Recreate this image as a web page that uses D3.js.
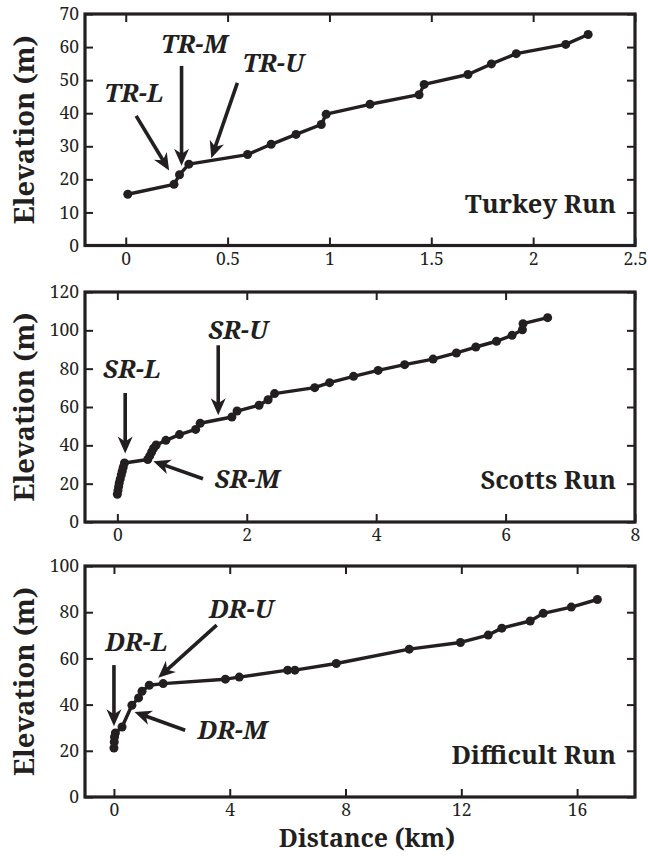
<!DOCTYPE html>
<html>
<head>
<meta charset="utf-8">
<script src="https://cdn.jsdelivr.net/npm/d3@7"></script>
<style>
  html, body { margin: 0; padding: 0; background: #fff; }
  svg { display: block; }
  svg text { font-family: "Noto Serif", "Liberation Serif", "Times New Roman", serif; }
</style>
</head>
<body>
<svg id="chart" width="648" height="856"></svg>
<script>
// ---------------- DATA ----------------
const turkeyDist = [0.01, 0.237, 0.264, 0.31, 0.598, 0.714, 0.836, 0.96, 0.984, 1.199, 1.44, 1.465, 1.68, 1.795, 1.917, 2.16, 2.27];
const turkeyElev = [15.5, 18.5, 21.4, 24.6, 27.5, 30.6, 33.6, 36.6, 39.7, 42.7, 45.6, 48.7, 51.7, 54.9, 58.0, 60.8, 63.8];

const scottsDist = [0.0, 0.01, 0.02, 0.03, 0.045, 0.06, 0.075, 0.09, 0.11, 0.47, 0.5, 0.53, 0.56, 0.6, 0.75, 0.96, 1.21, 1.28, 1.77, 1.85, 2.19, 2.33, 2.43, 3.05, 3.28, 3.65, 4.03, 4.44, 4.88, 5.24, 5.54, 5.86, 6.1, 6.26, 6.27, 6.65];
const scottsElev = [14.5, 16.5, 18.5, 20.5, 22.5, 24.5, 26.5, 28.5, 30.8, 32.6, 34.5, 36.5, 38.5, 40.2, 42.6, 45.6, 48.3, 51.5, 54.8, 57.9, 60.9, 63.8, 67.0, 70.1, 72.7, 76.0, 79.1, 82.1, 85.0, 88.2, 91.3, 94.3, 97.4, 100.3, 103.5, 106.6];

const difficultDist = [0, 0.01, 0.02, 0.05, 0.28, 0.62, 0.85, 0.97, 1.22, 1.7, 3.85, 4.33, 6.0, 6.25, 7.68, 10.2, 11.97, 12.93, 13.4, 14.38, 14.83, 15.8, 16.7];
const difficultElev = [21.2, 23.8, 26.0, 27.7, 30.3, 39.7, 42.9, 45.8, 48.4, 49.1, 51.0, 51.9, 54.9, 54.9, 57.8, 64.0, 66.9, 70.1, 73.1, 76.2, 79.5, 82.2, 85.5];

const turkeyXTicks = [0, 0.5, 1, 1.5, 2, 2.5];
const turkeyYTicks = [0, 10, 20, 30, 40, 50, 60, 70];
const scottsXTicks = [0, 2, 4, 6, 8];
const scottsYTicks = [0, 20, 40, 60, 80, 100, 120];
const difficultXTicks = [0, 4, 8, 12, 16];
const difficultYTicks = [0, 20, 40, 60, 80, 100];

const panelNames = ["Turkey Run", "Scotts Run", "Difficult Run"];

// annotations: label centre, arrow tail -> tip (data units)
const turkeyNotes = [
  {label: "TR-L", lx: 0.04, ly: 46.0, x1: 0.051, y1: 39.2, x2: 0.213, y2: 22.7},
  {label: "TR-M", lx: 0.337, ly: 60.9, x1: 0.274, y1: 54.3, x2: 0.274, y2: 24.1},
  {label: "TR-U", lx: 0.724, ly: 55.3, x1: 0.548, y1: 49.2, x2: 0.42, y2: 26.4}
];
const scottsNotes = [
  {label: "SR-L", lx: 0.224, ly: 79.7, x1: 0.121, y1: 67.3, x2: 0.121, y2: 35.7},
  {label: "SR-U", lx: 1.866, ly: 100.3, x1: 1.559, y1: 92.2, x2: 1.559, y2: 55.7},
  {label: "SR-M", lx: 2.006, ly: 22.6, x1: 1.323, y1: 22.6, x2: 0.556, y2: 31.7}
];
const difficultNotes = [
  {label: "DR-L", lx: 0.77, ly: 66.9, x1: 0.0, y1: 57.1, x2: 0.0, y2: 30.6},
  {label: "DR-U", lx: 4.40, ly: 81.4, x1: 3.55, y1: 74.4, x2: 1.53, y2: 51.6},
  {label: "DR-M", lx: 4.09, ly: 28.9, x1: 2.46, y1: 28.9, x2: 0.71, y2: 36.8}
];

// ---------------- LAYOUT ----------------
const INK = "#231f20";
const frameLeft = 85, frameRight = 635;
const BIG = 25.5, AXIS = 25, SMALL = 17.5;
const panels = [
  {name: panelNames[0], dist: turkeyDist, elev: turkeyElev, xDom: [-0.2, 2.5], yDom: [0, 70], xTicks: turkeyXTicks, yTicks: turkeyYTicks, notes: turkeyNotes, top: 14, bottom: 245.5},
  {name: panelNames[1], dist: scottsDist, elev: scottsElev, xDom: [-0.5, 8], yDom: [0, 120], xTicks: scottsXTicks, yTicks: scottsYTicks, notes: scottsNotes, top: 292, bottom: 522},
  {name: panelNames[2], dist: difficultDist, elev: difficultElev, xDom: [-1, 18], yDom: [0, 100], xTicks: difficultXTicks, yTicks: difficultYTicks, notes: difficultNotes, top: 566, bottom: 797}
];

const svg = d3.select("#chart");
svg.append("rect").attr("width", 648).attr("height", 856).attr("fill", "#fff");

function arrow(g, x1, y1, x2, y2) {
  const ang = Math.atan2(y2 - y1, x2 - x1) * 180 / Math.PI;
  const L = 17, w = 7.5, notch = 5;
  const len = Math.hypot(x2 - x1, y2 - y1);
  const a = g.append("g").attr("transform", `translate(${x1},${y1}) rotate(${ang})`);
  a.append("line").attr("x1", 0).attr("y1", 0).attr("x2", len - L + notch + 1).attr("y2", 0)
    .attr("stroke", INK).attr("stroke-width", 3.6);
  a.append("path")
    .attr("d", `M${len},0 L${len - L},${w} L${len - L + notch},0 L${len - L},${-w} Z`)
    .attr("fill", INK);
}

panels.forEach(p => {
  const x = d3.scaleLinear().domain(p.xDom).range([frameLeft, frameRight]);
  const y = d3.scaleLinear().domain(p.yDom).range([p.bottom, p.top]);
  const g = svg.append("g");
  const fmt = d => String(d);

  const ax = g.append("g").attr("transform", `translate(0,${p.bottom})`)
    .call(d3.axisBottom(x).tickValues(p.xTicks).tickSize(-8).tickPadding(7).tickFormat(fmt));
  const axT = g.append("g").attr("transform", `translate(0,${p.top})`)
    .call(d3.axisTop(x).tickValues(p.xTicks).tickSize(-8).tickFormat(""));
  const ay = g.append("g").attr("transform", `translate(${frameLeft},0)`)
    .call(d3.axisLeft(y).tickValues(p.yTicks).tickSize(-8).tickPadding(6).tickFormat(fmt));
  const ayR = g.append("g").attr("transform", `translate(${frameRight},0)`)
    .call(d3.axisRight(y).tickValues(p.yTicks).tickSize(-8).tickFormat(""));
  [ax, axT, ay, ayR].forEach(a => {
    a.attr("font-family", null);
    a.select(".domain").remove();
    a.selectAll(".tick line").attr("stroke", INK).attr("stroke-width", 2);
    a.selectAll(".tick text").attr("fill", INK).attr("font-size", SMALL);
  });

  g.append("rect").attr("x", frameLeft).attr("y", p.top)
    .attr("width", frameRight - frameLeft).attr("height", p.bottom - p.top)
    .attr("fill", "none").attr("stroke", INK).attr("stroke-width", 3.2);

  const pts = p.dist.map((d, i) => [d, p.elev[i]]);
  g.append("path").datum(pts)
    .attr("d", d3.line().x(d => x(d[0])).y(d => y(d[1])))
    .attr("fill", "none").attr("stroke", INK).attr("stroke-width", 3.4)
    .attr("stroke-linejoin", "round");
  g.selectAll("circle.pt").data(pts).join("circle").attr("class", "pt")
    .attr("cx", d => x(d[0])).attr("cy", d => y(d[1])).attr("r", 4.5).attr("fill", INK);

  p.notes.forEach(n => {
    arrow(g, x(n.x1), y(n.y1), x(n.x2), y(n.y2));
    g.append("text").attr("x", x(n.lx)).attr("y", y(n.ly) + 9)
      .attr("text-anchor", "middle")
      .attr("font-weight", "bold").attr("font-style", "italic")
      .attr("font-size", BIG).attr("fill", INK).text(n.label);
  });

  g.append("text").attr("x", frameRight - 19).attr("y", p.bottom - 33)
    .attr("text-anchor", "end").attr("font-weight", "bold")
    .attr("font-size", BIG).attr("fill", INK).text(p.name);

  g.append("text")
    .attr("transform", `translate(34,${(p.top + p.bottom) / 2}) rotate(-90)`)
    .attr("text-anchor", "middle").attr("font-weight", "bold")
    .attr("font-size", 27.5).attr("fill", INK).text("Elevation (m)");
});

svg.append("text").attr("x", 367).attr("y", 847)
  .attr("text-anchor", "middle").attr("font-weight", "bold")
  .attr("font-size", AXIS).attr("fill", INK).text("Distance (km)");
</script>
</body>
</html>
